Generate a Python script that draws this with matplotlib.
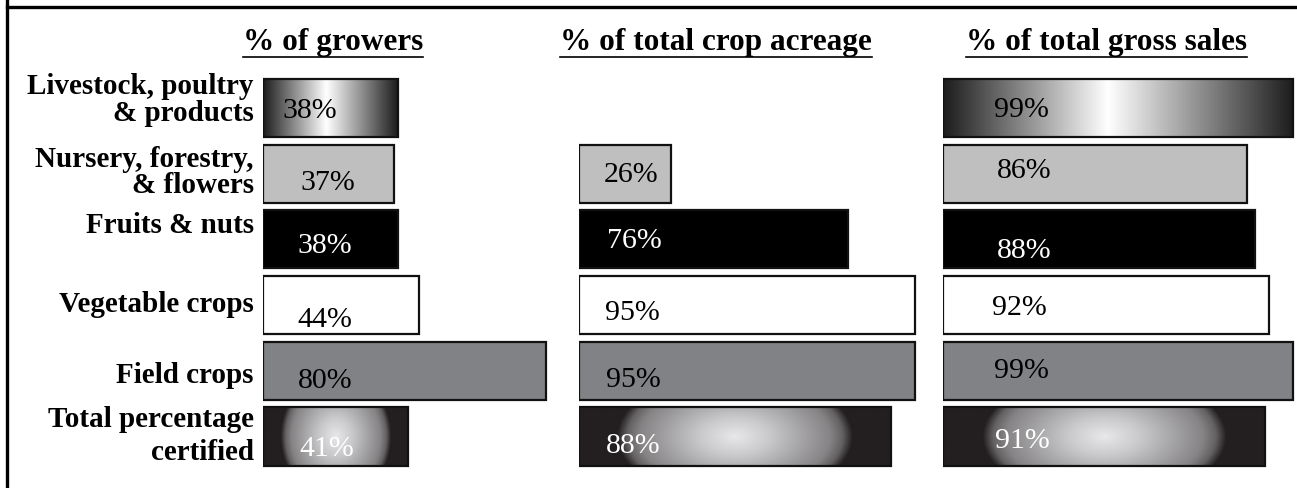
import numpy as np
import matplotlib
matplotlib.use("Agg")
import matplotlib.pyplot as plt
from matplotlib.lines import Line2D

# ---------------- data ----------------
categories = ["Livestock, poultry\n& products", "Nursery, forestry,\n& flowers",
              "Fruits & nuts", "Vegetable crops", "Field crops",
              "Total percentage\ncertified"]
panel_titles = ["% of growers", "% of total crop acreage", "% of total gross sales"]
growers = [38, 37, 38, 44, 80, 41]
crop_acreage = [None, 26, 76, 95, 95, 88]
gross_sales = [99, 86, 88, 92, 99, 91]
series = [growers, crop_acreage, gross_sales]

# ---------------- styles / layout ----------------
fills = ["lingrad", "#bfbfbf", "#000000", "#ffffff", "#808285", "radgrad"]
text_colors = ["black", "black", "white", "black", "black", "white"]
W, H = 1297, 489
panel_left_px = [263, 579, 943]
px_per_pct = 3.54
row0_px, row_step_px = 109, 65.7
bar_h = 0.883
label_x_pct = [[5.4, 10.5, 9.8, 9.8, 9.8, 10.3],
               [7, 7, 7.8, 7.3, 7.5, 7.6],
               [14.5, 15.3, 15.3, 13.8, 14.5, 14.8]]
label_base_dy = [[9.3, 15.2, 13, 20.5, 16, 19],
                 [0, 7, 8, 13.8, 14.8, 15.7],
                 [7.7, 3.5, 18, 8.8, 6.4, 10.7]]
cat_line_dy = [[-15, 12], [-7.8, 18.2], [-7.5], [5.8], [11], [-10.6, 22.4]]
title_center_pct = [19.8, 38.6, 46.3]
title_base_px = 50

FONT = "Liberation Serif"

fig = plt.figure(figsize=(W / 100, H / 100), dpi=100)
fig.patch.set_facecolor("white")

top_px = row0_px - row_step_px / 2
bot_px = row0_px + row_step_px * 5.5
n = len(categories)

dark = np.array([0x23, 0x1f, 0x20]) / 255.0
light = np.array([0xe8, 0xe8, 0xea]) / 255.0


def lin_grad(nx=400, peak=0.47):
    t = np.linspace(0, 1, nx)
    g = np.where(t < peak, t / peak, (1 - t) / (1 - peak))
    g = np.clip(g, 0, 1)
    lo = 0.11
    v = lo + (1 - lo) * g
    img = np.stack([v, v, v], axis=-1)[None, :, :]
    return img


def rad_grad(nx=400, ny=100):
    xx = np.linspace(0, 1, nx)
    yy = np.linspace(0, 1, ny)
    X, Y = np.meshgrid(xx, yy)
    u = (X - 0.5) / 0.36
    v = (Y - 0.5) / 1.05
    r = np.sqrt(u ** 2 + v ** 2)
    mix = np.interp(r, [0, 0.3, 0.6, 0.85, 0.96, 1.05],
                    [1.0, 0.85, 0.66, 0.5, 0.33, 0.0])
    img = dark[None, None, :] * (1 - mix[..., None]) + light[None, None, :] * mix[..., None]
    return np.clip(img, 0, 1)


axes = []
for p, vals in enumerate(series):
    left = panel_left_px[p] / W
    width = 100 * px_per_pct / W
    ax = fig.add_axes([left, 1 - bot_px / H, width, (bot_px - top_px) / H])
    ax.set_axis_off()
    axes.append(ax)
    for i, v in enumerate(vals):
        if v is None:
            continue
        f = fills[i]
        y0, y1 = i - bar_h / 2, i + bar_h / 2
        if f in ("lingrad", "radgrad"):
            img = lin_grad() if f == "lingrad" else rad_grad()
            ax.imshow(img, extent=[0, v, y1, y0], aspect="auto",
                      interpolation="bilinear", zorder=1)
            ax.barh(i, v, height=bar_h, facecolor="none", edgecolor="#111111",
                    linewidth=1.6, zorder=2)
        else:
            ax.barh(i, v, height=bar_h, color=f, edgecolor="#111111",
                    linewidth=1.6, zorder=2)
        ax.annotate(f"{v}%", xy=(label_x_pct[p][i], i), xytext=(0, -label_base_dy[p][i]),
                    textcoords="offset pixels", ha="left", va="baseline",
                    fontsize=21.5, family=FONT, color=text_colors[i], zorder=3)
    ax.set_xlim(0, 100)
    ax.set_ylim(n - 0.5, -0.5)

# category labels
ax0 = axes[0]
for i, cat in enumerate(categories):
    lines = cat.split("\n")
    for line, dy in zip(lines, cat_line_dy[i]):
        ax0.annotate(line, xy=(-2.6, i), xytext=(0, -dy), textcoords="offset pixels",
                     ha="right", va="baseline", fontsize=21, fontweight="bold",
                     family=FONT, color="black", annotation_clip=False)

# panel titles with underline
renderer = fig.canvas.get_renderer()
for p, title in enumerate(panel_titles):
    x_px = panel_left_px[p] + title_center_pct[p] * px_per_pct
    t = fig.text(x_px / W, 1 - title_base_px / H, title, ha="center", va="baseline",
                 fontsize=22.5, fontweight="bold", family=FONT, color="black")
    bb = t.get_window_extent(renderer)
    uy = 1 - (title_base_px + 7.5) / H
    fig.add_artist(Line2D([bb.x0 / W, bb.x1 / W], [uy, uy], color="black",
                          linewidth=1.2, transform=fig.transFigure))

# frame lines
fig.add_artist(Line2D([6.5 / W, 1], [1 - 7.5 / H, 1 - 7.5 / H], color="black",
                      linewidth=2.4, transform=fig.transFigure))
fig.add_artist(Line2D([6.5 / W, 6.5 / W], [0, 1], color="black",
                      linewidth=2.4, transform=fig.transFigure))

fig.savefig("out.png", dpi=100, facecolor="white")
